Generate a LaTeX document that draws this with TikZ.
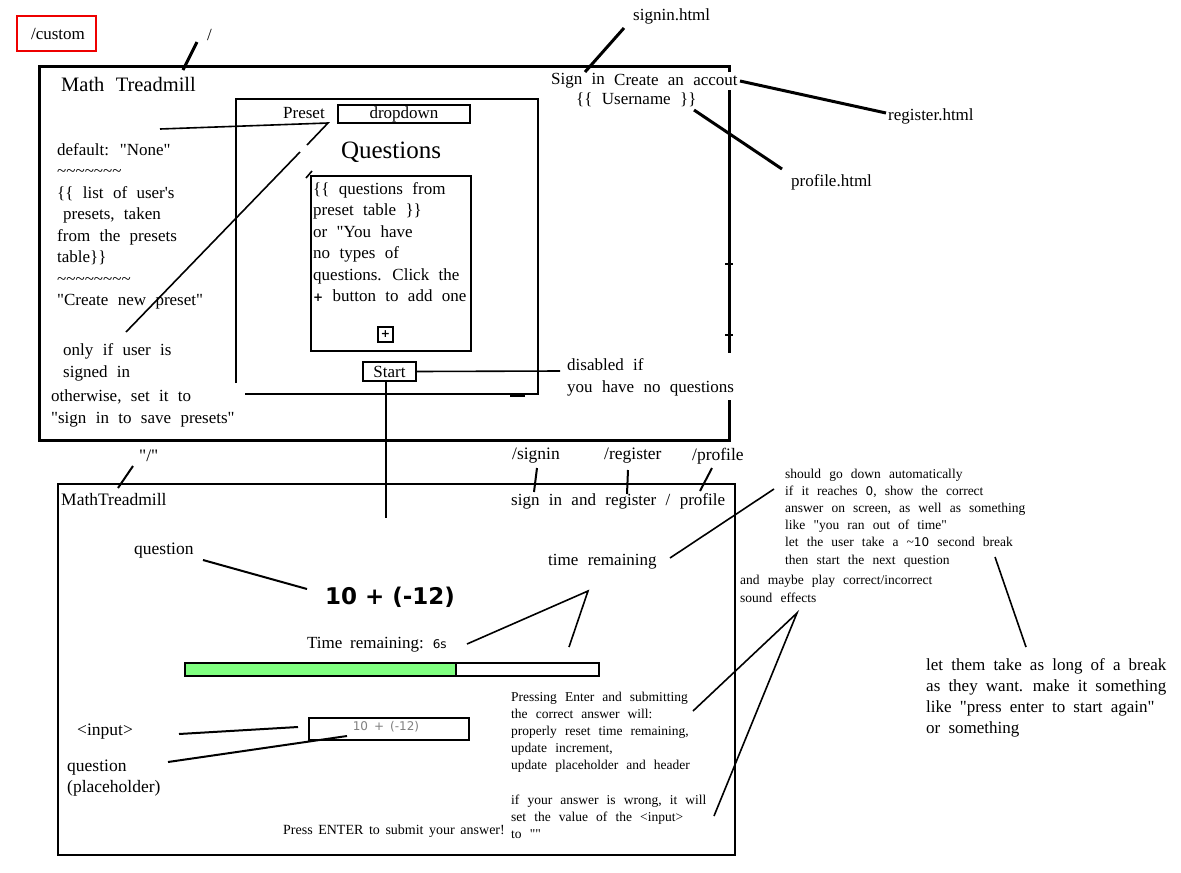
\documentclass[tikz,border=0pt]{standalone}
\usepackage{fontspec}
\setmainfont{Liberation Serif}[Ligatures=TeXOff]
\newfontfamily\condf{Liberation Serif}[Ligatures=TeXOff]
\newfontfamily\sansf{DejaVu Sans}
\newcommand\wsp[1]{\spaceskip=#1em plus .1em minus .1em\relax}
\newcommand\topf{\fontsize{17}{21.5}\selectfont\wsp{.55}}
\newcommand\botf{\condf\fontsize{14}{17}\selectfont\wsp{.4}}
\newcommand\labf{\condf\fontsize{17.5}{21}\selectfont\wsp{.4}}
\newcommand\notef{\condf\fontsize{13.5}{17.1}\selectfont\wsp{.6}}
\newcommand\snum[1]{{\sansf\fontsize{12}{12}\selectfont #1}}
\definecolor{barg}{HTML}{80FF80}
\definecolor{redb}{HTML}{EE0000}
\begin{document}
\begin{tikzpicture}[x=1pt,y=-1pt,
  th/.style={line width=3pt},
  md/.style={line width=2pt},
  tn/.style={line width=1.6pt},
  t/.style={inner sep=0pt,anchor=west},
  blk/.style={inner sep=0pt,anchor=north west,align=left},
  boxn/.style={draw,md,inner sep=0pt}]
\useasboundingbox[fill=white] (0,0) rectangle (1181,873);

% ---------- top wireframe ----------
\node[draw=redb,line width=2pt,minimum width=79pt,minimum height=35pt,inner sep=0pt,font=\topf] (custom) at (56.5,33.5) {\hspace*{3pt}/custom};
\node[t,font=\topf] (slash) at (207,35) {/};
\coordinate (s1) at (183,70); \coordinate (s2) at (197,42);
\draw[th] (s1) -- (s2);

% outer box with gaps
\draw[th] (729,72) -- (729,66) -- (39,66) -- (39,440) -- (729,440) -- (729,400);
\draw[th] (729,90) -- (729,353);
\draw[md] (725,264) -- (733,264);
\draw[md] (725,335) -- (733,335);

\node[t,font=\fontsize{20.5}{24}\selectfont\wsp{.55}] (title) at (61,84) {Math Treadmill};

% inner box
\draw[md] (236,383) -- (236,99) -- (538,99) -- (538,394) -- (245,394);
\draw[tn] (510,396) -- (525,396);

\node[t,font=\topf] (preset) at (283,113) {Preset};
\node[boxn,minimum width=132pt,minimum height=18pt,font=\topf] (dd) at (404,114) {dropdown};

\coordinate (a1) at (160,129); \coordinate (a2) at (328,123); \coordinate (a3) at (307,145);
\coordinate (a4) at (300,152); \coordinate (a5) at (126,332);
\draw[tn] (a1) -- (a2) -- (a3);
\draw[tn] (a4) -- (a5);
\draw[tn] (306,178) -- (312,171);

\node[font=\fontsize{25}{28}\selectfont] (qh) at (391,152) {Questions};
\node[boxn,anchor=north west,minimum width=160pt,minimum height=175pt] (qbox) at (310,175) {};
\node[blk,font=\topf] (qtext) at (313,182) {\{\{ questions from\\preset table \}\}\\or "You have\\no types of\\questions. Click the\\{\sansf\bfseries\fontsize{12}{12}\selectfont +} button to add one};
\node[boxn,minimum size=15pt,font=\sansf\bfseries\fontsize{11}{11}\selectfont] (plus) at (385.5,334.5) {+};

\node[boxn,minimum width=53pt,minimum height=19pt,font=\topf] (start) at (389.5,371.5) {Start};
\coordinate (dis) at (560,371);
\draw[tn] (start.east) -- (dis);
\node[blk,font=\topf] (distxt) at (567,358.5) {disabled if\\you have no questions};
\coordinate (bot1) at (386,518);
\draw[tn] (start.south -| bot1) -- (bot1);

% left notes
\node[blk,font=\topf] (defaults) at (57,143) {default: "None"\\
\textasciitilde\textasciitilde\textasciitilde\textasciitilde\textasciitilde\textasciitilde\textasciitilde\\
\{\{ list of user's\\
\hspace*{6pt}presets, taken\\
from the presets\\
table\}\}\\
\textasciitilde\textasciitilde\textasciitilde\textasciitilde\textasciitilde\textasciitilde\textasciitilde\textasciitilde\\
"Create new preset"};
\node[blk,font=\topf] (onlyif) at (63,343.5) {only if user is\\signed in};
\node[blk,font=\topf] (otherw) at (51,389.5) {otherwise, set it to\\"sign in to save presets"};

% top right
\node[t,font=\topf] (signinh) at (633,16) {signin.html};
\node[t,font=\topf] (signbtn) at (551,81) {Sign in};
\node[t,font=\topf] (create) at (614,80) {Create an accout};
\node[t,font=\topf] (uname) at (576,100) {\{\{ Username \}\}};
\node[t,font=\topf] (regh) at (888,116) {register.html};
\node[t,font=\topf] (profh) at (791,182) {profile.html};
\coordinate (b1) at (585,72); \coordinate (b2) at (624,28);
\coordinate (c1) at (740,81); \coordinate (c2) at (886,113);
\coordinate (d1) at (694,110); \coordinate (d2) at (782,169);
\draw[th] (b1) -- (b2);
\draw[th] (c1) -- (c2);
\draw[th] (d1) -- (d2);

% ---------- bottom wireframe ----------
\node[t,font=\labf] (root) at (139,456) {"/"};
\coordinate (e1) at (118,488); \coordinate (e2) at (133,466);
\draw[md] (e1) -- (e2);
\node[boxn,anchor=north west,minimum width=677pt,minimum height=371pt] (page) at (57,483) {};
\node[t,font=\labf] (mt) at (61,500) {MathTreadmill};

\node[t,font=\labf] (rsignin) at (512,456) {/signin};
\node[t,font=\labf] (rreg) at (604,456) {/register};
\node[t,font=\labf] (rprof) at (692,456) {/profile};
\node[t,font=\topf] (navl) at (511,501) {sign in and register / profile};
\coordinate (f1) at (534,492); \coordinate (f2) at (537,468);
\coordinate (g1) at (627,494); \coordinate (g2) at (628,470);
\coordinate (h1) at (700,491); \coordinate (h2) at (712,468);
\draw[md] (f1) -- (f2); \draw[md] (g1) -- (g2); \draw[md] (h1) -- (h2);

\node[t,font=\labf] (qlabel) at (134,551) {question};
\coordinate (i1) at (203,560); \coordinate (i2) at (307,589);
\draw[md] (i1) -- (i2);
\node[font=\sansf\bfseries\fontsize{23}{24}\selectfont] (qexpr) at (390,597) {10 + (-12)};

\node[t,font=\topf] (tlabel) at (548,562) {time remaining};
\coordinate (j1) at (670,558); \coordinate (j2) at (774,489);
\draw[tn] (j1) -- (j2);
\node[blk,font=\notef] (note1) at (785,469) {should go down automatically\\
if it reaches \snum{0}, show the correct\\
answer on screen, as well as something\\
like "you ran out of time"\\
let the user take a \textasciitilde\snum{10} second break\\
then start the next question};
\node[blk,font=\condf\fontsize{13.5}{18}\selectfont\wsp{.6}] (note2) at (740,575) {and maybe play correct/incorrect\\sound effects};
\coordinate (k1) at (995,557); \coordinate (k2) at (1026,647);
\draw[tn] (k1) -- (k2);
\node[blk,font=\fontsize{17}{21}\selectfont\wsp{.48}] (note3) at (926,658.5) {let them take as long of a break\\
as they want. make it something\\
like "press enter to start again"\\
or something};

\node[t,font=\condf\fontsize{17}{17}\selectfont\wsp{.45}] (timerem) at (307,645) {Time remaining: \snum{6s}};
\coordinate (l1) at (467,644); \coordinate (l2) at (588,591); \coordinate (l3) at (569,647);
\draw[tn] (l1) -- (l2) -- (l3);

\fill[barg] (184,662) rectangle (456,675);
\node[boxn,anchor=north west,minimum width=414pt,minimum height=13pt] (bar) at (184,662) {};
\draw[md] (456,662) -- (456,675);

\node[t,font=\labf] (inlabel) at (77,732) {<input>};
\coordinate (m1) at (179,734); \coordinate (m2) at (298,727);
\draw[md] (m1) -- (m2);
\node[boxn,anchor=north west,minimum width=160pt,minimum height=22pt] (inbox) at (308,717) {};
\node[font=\sansf\fontsize{12}{12}\selectfont\wsp{.5},text=gray] (ph) at (386,727) {10 + (-12)};
\node[blk,font=\labf] (phlabel) at (67,759.5) {question\\(placeholder)};
\coordinate (n1) at (168,762); \coordinate (n2) at (347,736);
\draw[md] (n1) -- (n2);

\node[blk,font=\notef] (enter) at (511,692) {Pressing Enter and submitting\\
the correct answer will:\\
properly reset time remaining,\\
update increment,\\
update placeholder and header\\[17pt]
if your answer is wrong, it will\\
set the value of the <input>\\
to ""};
\coordinate (o1) at (797,613); \coordinate (o2) at (693,711); \coordinate (o3) at (714,816);
\draw[tn] (o2) -- (o1) -- (o3);

\node[inner sep=0pt,anchor=east,font=\botf] (submit) at (505,831) {Press ENTER to submit your answer!};
\end{tikzpicture}
\end{document}
